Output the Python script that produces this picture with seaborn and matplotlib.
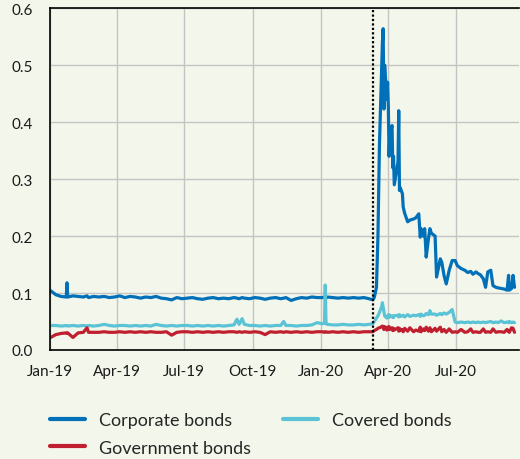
import pandas as pd
import matplotlib.pyplot as plt
import matplotlib.dates as mdates
import seaborn as sns

dates = [
    # 2019 Jan-Feb
    "2019-01-02", "2019-01-09", "2019-01-16", "2019-01-23", "2019-01-24", "2019-01-25",
    "2019-02-01", "2019-02-08", "2019-02-15", "2019-02-20", "2019-02-22", "2019-03-01",
    # 2019 Mar-Jun
    "2019-03-08", "2019-03-15", "2019-03-22", "2019-03-29", "2019-04-05", "2019-04-12",
    "2019-04-19", "2019-04-26", "2019-05-03", "2019-05-10", "2019-05-17", "2019-05-24",
    "2019-05-31", "2019-06-07", "2019-06-14", "2019-06-21", "2019-06-28",
    # 2019 Jul-Aug
    "2019-07-05", "2019-07-12", "2019-07-19", "2019-07-26", "2019-08-02", "2019-08-09",
    "2019-08-16", "2019-08-23", "2019-08-30",
    # 2019 Sep-Dec
    "2019-09-06", "2019-09-10", "2019-09-13", "2019-09-17", "2019-09-20", "2019-09-27",
    "2019-10-04", "2019-10-11", "2019-10-18", "2019-10-25", "2019-11-01", "2019-11-08",
    "2019-11-12", "2019-11-15", "2019-11-22", "2019-11-29", "2019-12-06", "2019-12-13",
    "2019-12-20", "2019-12-27",
    # 2020 Jan - Mar 11
    "2020-01-03", "2020-01-06", "2020-01-07", "2020-01-08", "2020-01-10", "2020-01-17",
    "2020-01-24", "2020-01-31", "2020-02-07", "2020-02-14", "2020-02-21", "2020-02-28",
    "2020-03-06", "2020-03-11",
    # 2020 Mar 13 - Apr 9
    "2020-03-13", "2020-03-16", "2020-03-18", "2020-03-20", "2020-03-23", "2020-03-24",
    "2020-03-25", "2020-03-26", "2020-03-27", "2020-03-30", "2020-03-31", "2020-04-01",
    "2020-04-02", "2020-04-03", "2020-04-06", "2020-04-07", "2020-04-08", "2020-04-09",
    # 2020 Apr 14 - May 29
    "2020-04-14", "2020-04-15", "2020-04-16", "2020-04-17", "2020-04-20", "2020-04-21",
    "2020-04-23", "2020-04-27", "2020-04-30", "2020-05-05", "2020-05-08", "2020-05-12",
    "2020-05-14", "2020-05-15", "2020-05-18", "2020-05-20", "2020-05-22", "2020-05-25",
    "2020-05-27", "2020-05-29",
    # 2020 Jun - Jul
    "2020-06-03", "2020-06-05", "2020-06-10", "2020-06-12", "2020-06-15", "2020-06-18",
    "2020-06-22", "2020-06-26", "2020-06-30", "2020-07-03", "2020-07-08", "2020-07-13",
    "2020-07-17", "2020-07-21", "2020-07-24", "2020-07-28", "2020-07-31",
    # 2020 Aug - Sep
    "2020-08-03", "2020-08-07", "2020-08-10", "2020-08-13", "2020-08-17", "2020-08-20",
    "2020-08-24", "2020-08-27", "2020-08-31", "2020-09-04", "2020-09-08", "2020-09-10",
    "2020-09-11", "2020-09-14", "2020-09-16", "2020-09-18",
]

corporate = [
    0.104, 0.097, 0.094, 0.093, 0.118, 0.093, 0.095, 0.094, 0.093, 0.095, 0.092, 0.094,
    0.093, 0.094, 0.092, 0.093, 0.095, 0.092, 0.094, 0.093, 0.091, 0.093, 0.092, 0.094,
    0.091, 0.090, 0.088, 0.092, 0.090,
    0.091, 0.092, 0.090, 0.089, 0.091, 0.092, 0.090, 0.091, 0.090,
    0.092, 0.091, 0.090, 0.092, 0.091, 0.090, 0.092, 0.091, 0.089, 0.091, 0.092, 0.090,
    0.091, 0.092, 0.087, 0.090, 0.092, 0.091, 0.093, 0.092,
    0.092, 0.093, 0.092, 0.091, 0.093, 0.092, 0.091, 0.092, 0.091, 0.092, 0.091, 0.092,
    0.090, 0.088,
    0.092, 0.110, 0.200, 0.360, 0.500, 0.540, 0.564, 0.423, 0.500, 0.440, 0.470, 0.426,
    0.340, 0.380, 0.394, 0.320, 0.340, 0.290,
    0.330, 0.420, 0.280, 0.285, 0.274, 0.251, 0.240, 0.225, 0.228, 0.230, 0.232, 0.239,
    0.198, 0.213, 0.200, 0.213, 0.163, 0.195, 0.213, 0.205,
    0.200, 0.128, 0.160, 0.154, 0.131, 0.116, 0.140, 0.157, 0.157, 0.148, 0.143, 0.140,
    0.136, 0.138, 0.133, 0.137, 0.134,
    0.132, 0.125, 0.110, 0.137, 0.140, 0.113, 0.110, 0.109, 0.108, 0.107, 0.105, 0.131,
    0.105, 0.108, 0.131, 0.110,
]

covered = [
    0.043, 0.043, 0.042, 0.043, 0.043, 0.042, 0.043, 0.042, 0.043, 0.042, 0.043, 0.042,
    0.043, 0.045, 0.043, 0.042, 0.043, 0.043, 0.042, 0.043, 0.042, 0.043, 0.042, 0.045,
    0.043, 0.042, 0.043, 0.042, 0.043,
    0.043, 0.042, 0.043, 0.042, 0.043, 0.042, 0.043, 0.042, 0.043,
    0.044, 0.054, 0.045, 0.055, 0.045, 0.043, 0.043, 0.042, 0.043, 0.042, 0.043, 0.043,
    0.050, 0.043, 0.043, 0.042, 0.043, 0.043, 0.044, 0.048,
    0.046, 0.047, 0.114, 0.046, 0.045, 0.044, 0.044, 0.045, 0.044, 0.044, 0.045, 0.044,
    0.045, 0.046,
    0.050, 0.056, 0.060, 0.066, 0.076, 0.083, 0.075, 0.066, 0.060, 0.056, 0.058, 0.062,
    0.057, 0.061, 0.058, 0.060, 0.057, 0.060,
    0.061, 0.058, 0.062, 0.059, 0.060, 0.061, 0.058, 0.062, 0.059, 0.061, 0.060, 0.062,
    0.059, 0.063, 0.060, 0.061, 0.064, 0.062, 0.069, 0.063,
    0.063, 0.061, 0.064, 0.062, 0.065, 0.063, 0.066, 0.071, 0.049, 0.048, 0.049, 0.048,
    0.049, 0.048, 0.049, 0.048, 0.049,
    0.048, 0.049, 0.048, 0.049, 0.050, 0.048, 0.049, 0.048, 0.051, 0.048, 0.049, 0.048,
    0.050, 0.048, 0.049, 0.048,
]

government = [
    0.022, 0.027, 0.029, 0.030, 0.029, 0.030, 0.022, 0.030, 0.031, 0.039, 0.031, 0.031,
    0.031, 0.032, 0.031, 0.031, 0.032, 0.031, 0.032, 0.031, 0.032, 0.031, 0.032, 0.031,
    0.031, 0.032, 0.026, 0.031, 0.032,
    0.032, 0.031, 0.032, 0.031, 0.032, 0.031, 0.032, 0.031, 0.032,
    0.032, 0.031, 0.032, 0.031, 0.032, 0.031, 0.032, 0.031, 0.027, 0.032, 0.031, 0.032,
    0.031, 0.032, 0.031, 0.032, 0.031, 0.032, 0.031, 0.032,
    0.032, 0.031, 0.032, 0.032, 0.031, 0.032, 0.031, 0.032, 0.031, 0.032, 0.031, 0.032,
    0.032, 0.032,
    0.034, 0.036, 0.038, 0.039, 0.041, 0.042, 0.040, 0.036, 0.041, 0.035, 0.040, 0.037,
    0.041, 0.036, 0.039, 0.034, 0.038, 0.035,
    0.039, 0.033, 0.038, 0.034, 0.036, 0.032, 0.038, 0.033, 0.039, 0.032, 0.035, 0.033,
    0.040, 0.032, 0.037, 0.034, 0.040, 0.033, 0.039, 0.032,
    0.038, 0.033, 0.040, 0.032, 0.036, 0.031, 0.037, 0.031, 0.032, 0.031, 0.036, 0.031,
    0.032, 0.037, 0.031, 0.032, 0.031,
    0.031, 0.037, 0.031, 0.032, 0.031, 0.037, 0.031, 0.032, 0.032, 0.031, 0.036, 0.032,
    0.031, 0.039, 0.038, 0.031,
]

series_names = ["Corporate bonds", "Covered bonds", "Government bonds"]
colors = {"Corporate bonds": "#0070b8", "Covered bonds": "#5bc3d6",
          "Government bonds": "#c01f2f"}
event_date = "2020-03-11"

df = pd.DataFrame({
    "Date": pd.to_datetime(dates),
    "Corporate bonds": corporate,
    "Covered bonds": covered,
    "Government bonds": government,
})
long_df = df.melt(id_vars="Date", var_name="Series", value_name="Value")

bg = "#f3f6ea"
sns.set_style("whitegrid")
plt.rcParams["font.family"] = ["Lato", "DejaVu Sans"]

fig = plt.figure(figsize=(5.2, 4.6), dpi=100, facecolor=bg)
ax = fig.add_axes([0.096, 0.237, 0.902, 0.743])
ax.set_facecolor(bg)

sns.lineplot(data=long_df, x="Date", y="Value", hue="Series",
             hue_order=series_names, palette=colors, linewidth=2.3, ax=ax)

ax.axvline(pd.Timestamp(event_date), color="black", linestyle=(0, (1, 1)),
           linewidth=1.6, zorder=3)

ax.set_xlim(pd.Timestamp("2019-01-01"), pd.Timestamp("2020-09-24"))
ax.set_ylim(0, 0.6)
ax.set_yticks([0, 0.1, 0.2, 0.3, 0.4, 0.5, 0.6])
ax.yaxis.set_major_formatter(plt.FuncFormatter(lambda v, p: f"{v:.1f}"))
ax.xaxis.set_major_locator(mdates.MonthLocator(bymonth=[1, 4, 7, 10]))
ax.xaxis.set_major_formatter(mdates.DateFormatter("%b-%y"))
ax.set_xlabel("")
ax.set_ylabel("")

ax.grid(True, color="#c4c4c4", linewidth=1)
ax.tick_params(axis="both", length=0, labelsize=11, colors="#1a1a1a")
ax.tick_params(axis="y", pad=12)
ax.tick_params(axis="x", pad=10)
for side in ["left", "bottom", "top"]:
    ax.spines[side].set_color("black")
    ax.spines[side].set_linewidth(1.2)
ax.spines["right"].set_visible(False)

handles, labels = ax.get_legend_handles_labels()
order = [0, 2, 1]
leg = ax.legend([handles[i] for i in order], [labels[i] for i in order],
                ncol=2, frameon=False, fontsize=13, loc="upper left",
                bbox_to_anchor=(-0.035, -0.135), handlelength=1.95,
                handletextpad=0.75, columnspacing=1.8, labelspacing=0.62)
for line in leg.get_lines():
    line.set_linewidth(3)

fig.savefig("out.png", dpi=100, facecolor=bg)
